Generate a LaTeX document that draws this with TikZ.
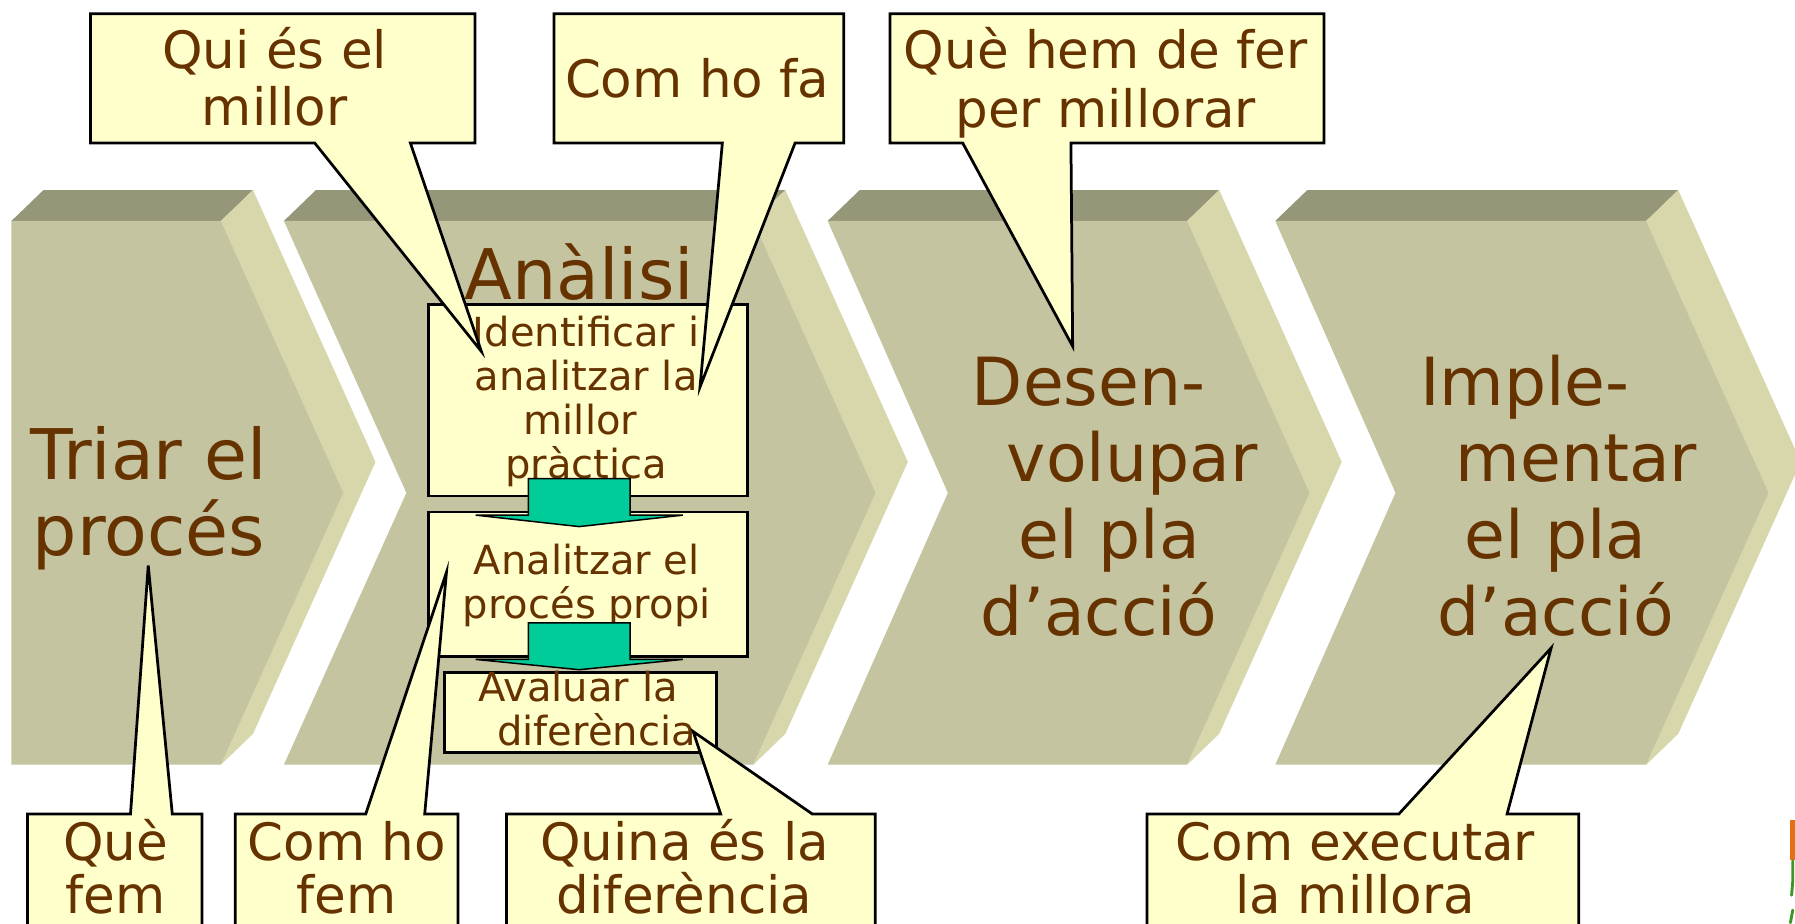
\documentclass[tikz,border=0pt]{standalone}
\usepackage{fontspec}
\setmainfont{DejaVu Sans}
\newfontfamily\tfont{DejaVu Sans}
\usetikzlibrary{calc}
\definecolor{cbrown}{RGB}{102,51,0}
\definecolor{cfront}{RGB}{196,196,160}
\definecolor{ctop}{RGB}{150,150,120}
\definecolor{cside}{RGB}{215,215,171}
\definecolor{cyel}{RGB}{255,255,204}
\definecolor{cgreen}{RGB}{0,204,153}
\definecolor{corange}{RGB}{230,110,20}
\definecolor{clgreen}{RGB}{60,150,40}
\newcommand{\mlines}[1]{\vtop{\halign{\hfil##\hfil\cr#1\crcr}}}
% chevron: #1 left x, #2 right x, #3 notch depth
\newcommand{\mychev}[3]{%
  \fill[ctop] (#1,193) -- (#1+28,166) -- (#2+28,166) -- (#2,193) -- cycle;
  \fill[cside] (#2,193) -- (#2+28,166) -- (#2+135,403.5) -- (#2+28,641) -- (#2,668) -- (#2+107,430.5) -- cycle;
  \fill[cfront] (#1,193) -- (#2,193) -- (#2+107,430.5) -- (#2,668) -- (#1,668) -- (#1+#3,430.5) -- cycle;
}
% top callout: x1,y1,x2,y2,base1,base2,tip
\newcommand{\topcallout}[7]{%
  \draw[callout] (#1,#2) -- (#3,#2) -- (#3,#4) -- (#6,#4) -- (#7) -- (#5,#4) -- (#1,#4) -- cycle;}
% bottom callout
\newcommand{\botcallout}[7]{%
  \draw[callout] (#1,#2) -- (#5,#2) -- (#7) -- (#6,#2) -- (#3,#2) -- (#3,#4) -- (#1,#4) -- cycle;}
\begin{document}
\begin{tikzpicture}[x=1pt,y=-1pt,
  ctext/.style={font=\tfont\fontsize{58}{67}\selectfont, text=cbrown, inner sep=0pt, anchor=base},
  btext/.style={font=\tfont\fontsize{35}{38.5}\selectfont, text=cbrown, inner sep=0pt, anchor=base},
  ktext/.style={font=\tfont\fontsize{45}{50}\selectfont, text=cbrown, inner sep=0pt, anchor=base},
  kbot/.style={font=\tfont\fontsize{45}{46}\selectfont, text=cbrown, inner sep=0pt, anchor=base},
  callout/.style={fill=cyel, draw=black, line width=2.4pt, line join=miter},
  boxst/.style={fill=cyel, draw=black, line width=2.4pt, inner sep=0pt, anchor=north west},
  garrow/.style={fill=cgreen, draw=black, line width=1.3pt, line join=miter},
]
\useasboundingbox (0,0) rectangle (1568,807);
\fill[white] (0,0) rectangle (1568,807);
\clip (0,0) rectangle (1568,807);

% chevrons
\mychev{10}{193}{0}
\mychev{248}{658}{107}
\mychev{723}{1037}{105}
\mychev{1114}{1438}{105}

% chevron texts
\node[ctext, font=\tfont\fontsize{61}{66}\selectfont] (t1) at (130,419) {\mlines{Triar el\cr procés}};
\node[ctext, font=\tfont\fontsize{61}{67}\selectfont] (t2) at (506,262) {Anàlisi};
\node[ctext] (t3) at (969,354) {\mlines{Desen-\hskip36pt\cr\hskip40pt volupar\cr el pla\cr d’acció\hskip18pt}};
\node[ctext] (t4) at (1359,354) {\mlines{Imple-\hskip54pt\cr\hskip36pt mentar\cr el pla\cr d’acció}};

% inner boxes
\node[boxst, minimum width=279pt, minimum height=167pt] (A) at (373,265) {};
\node[boxst, minimum width=279pt, minimum height=126pt] (B) at (373,446) {};
\node[boxst, minimum width=237.5pt, minimum height=70pt] (C) at (387,586) {};
\node[btext] (At) at (512,302.5) {\mlines{Identificar i\cr analitzar la\cr millor\hskip10pt\cr pràctica}};
\node[btext, font=\tfont\fontsize{35}{38.5}\selectfont] (Bt) at (512.5,501.5) {\mlines{Analitzar el\cr procés propi}};
\node[btext, font=\tfont\fontsize{35}{39}\selectfont] (Ct) at (505,612.5) {\mlines{Avaluar la\cr\hskip32pt diferència}};

% block arrows between boxes
\coordinate (ar1) at (506,418);
\coordinate (ar2) at (506,544);
\draw[garrow] (ar1) ++(-44.5,0) -- ++(89,0) -- ++(0,32) -- ++(46,0) -- ++(-90.5,10) -- ++(-90.5,-10) -- ++(46,0) -- cycle;
\draw[garrow] (ar2) ++(-44.5,0) -- ++(89,0) -- ++(0,32) -- ++(46,0) -- ++(-90.5,9) -- ++(-90.5,-9) -- ++(46,0) -- cycle;

% callout pointer tips
\coordinate (p1) at (420.5,307);
\coordinate (p2) at (611.5,338);
\coordinate (p3) at (937,302.5);
\coordinate (p4) at (129.5,494);
\coordinate (p5) at (390,500);
\coordinate (p6) at (605.5,639);
\coordinate (p7) at (1355,566);

% callouts
\topcallout{79}{12}{415}{125}{275}{358.5}{p1}
\topcallout{484}{12}{737}{125}{631}{694.5}{p2}
\topcallout{777.5}{12}{1156.5}{125}{841}{935.5}{p3}
\botcallout{24}{711}{176.5}{840}{114}{150.5}{p4}
\botcallout{205.5}{711}{400}{840}{319.5}{371}{p5}
\botcallout{442.5}{711}{764.5}{840}{629.5}{709.5}{p6}
\botcallout{1002}{711}{1379}{840}{1222}{1316.5}{p7}

\node[ktext] (q1) at (240,60) {\mlines{Qui és el\cr millor}};
\node[ktext] (q2) at (609,85) {Com ho fa};
\node[ktext, font=\tfont\fontsize{45}{51}\selectfont] (q3) at (966,60) {\mlines{Què hem de fer\cr per millorar}};
\node[kbot] (q4) at (101,752) {\mlines{Què\cr fem}};
\node[kbot] (q5) at (303,752) {\mlines{Com ho\cr fem}};
\node[kbot] (q6) at (598,752) {\mlines{Quina és la\cr diferència}};
\node[kbot] (q7) at (1184,752) {\mlines{Com executar\cr la millora}};

% partial logo at the right edge
\fill[corange] (1564,716) rectangle (1570,751);
\draw[clgreen, line width=2.5pt, line cap=round] (1566,752) -- (1566,770) -- (1565,782);
\draw[clgreen, line width=2.5pt, line cap=round] (1566,795) -- (1564,806);
\end{tikzpicture}
\end{document}
